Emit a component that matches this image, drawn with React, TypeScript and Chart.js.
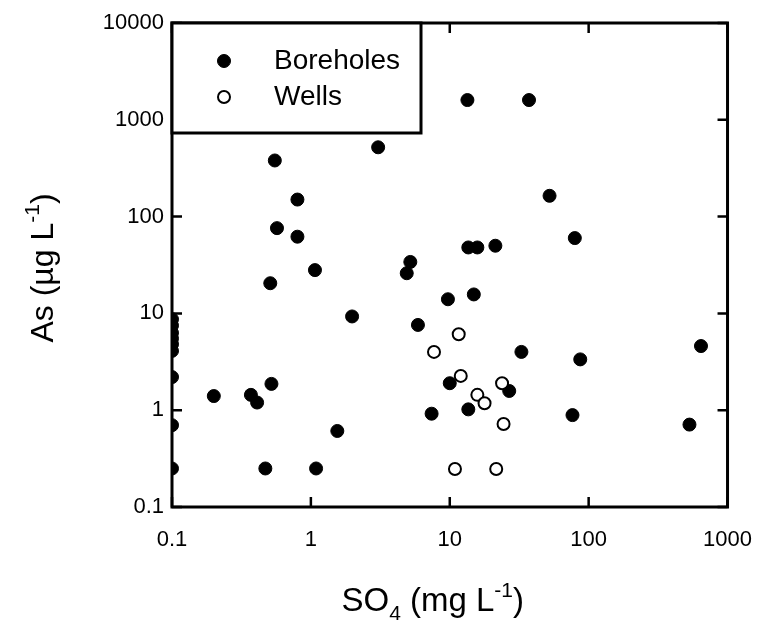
import React, { useEffect, useRef } from "react";
import { Chart, registerables } from "chart.js";

Chart.register(...registerables);

// ---- data ----
const seriesNames = ["Boreholes", "Wells"];

const boreholeSO4 = [
  0.1, 0.1, 0.1, 0.1, 0.1, 0.1, 0.1, 0.1, 0.1,
  0.2, 0.37, 0.41, 0.47, 0.52, 0.51, 0.55, 0.57, 0.8, 0.8,
  1.07, 1.09, 1.55, 1.98, 3.05,
  4.9, 5.2, 5.9, 7.4, 9.7, 10,
  13.4, 13.6, 15.8, 14.9, 13.6,
  21.3, 26.8, 32.8, 37.2, 52.3,
  79.5, 76.5, 87, 532, 644,
];
const boreholeAs = [
  8.7, 7.5, 6.3, 5.5, 4.8, 4.1, 2.2, 0.7, 0.25,
  1.4, 1.44, 1.2, 0.25, 1.87, 20.5, 380, 76, 150, 62,
  28, 0.25, 0.61, 9.3, 520,
  26, 34, 7.6, 0.92, 14, 1.9,
  1600, 48, 48, 15.7, 1.02,
  50, 1.58, 4.0, 1600, 164,
  60, 0.89, 3.35, 0.71, 4.6,
];

const wellSO4 = [7.7, 11.6, 12.0, 15.8, 17.8, 23.8, 24.4, 10.9, 21.6];
const wellAs = [4.0, 6.1, 2.26, 1.44, 1.18, 1.9, 0.72, 0.247, 0.247];

const xTicks = [0.1, 1, 10, 100, 1000];
const yTicks = [0.1, 1, 10, 100, 1000, 10000];
const xTickLabels = ["0.1", "1", "10", "100", "1000"];
const yTickLabels = ["0.1", "1", "10", "100", "1000", "10000"];

const FONT = "'Liberation Sans', Arial, Helvetica, sans-serif";
const INK = "#000";

type Run = { text: string; size: number; dy: number };

const xTitleRuns: Run[] = [
  { text: "SO", size: 33, dy: 0 },
  { text: "4", size: 21, dy: 9 },
  { text: " (mg L", size: 33, dy: 0 },
  { text: "-1", size: 21, dy: -14 },
  { text: ")", size: 33, dy: 0 },
];
const yTitleRuns: Run[] = [
  { text: "As (µg L", size: 32, dy: 0 },
  { text: "-1", size: 21, dy: -14 },
  { text: ")", size: 32, dy: 0 },
];

function drawRuns(ctx: CanvasRenderingContext2D, runs: Run[], cx: number, baseline: number) {
  let total = 0;
  for (const r of runs) {
    ctx.font = `${r.size}px ${FONT}`;
    total += ctx.measureText(r.text).width;
  }
  let x = cx - total / 2;
  ctx.textAlign = "left";
  ctx.textBaseline = "alphabetic";
  for (const r of runs) {
    ctx.font = `${r.size}px ${FONT}`;
    ctx.fillText(r.text, x, baseline + r.dy);
    x += ctx.measureText(r.text).width;
  }
}

const framePlugin = {
  id: "frameAndLegend",
  afterDatasetsDraw(chart: any) {
    const { ctx, chartArea: a, scales } = chart;
    ctx.save();
    ctx.strokeStyle = INK;
    ctx.fillStyle = INK;

    // inward tick marks on all four sides
    const tl = 10;
    ctx.lineWidth = 2.5;
    ctx.beginPath();
    for (const v of xTicks) {
      const px = scales.x.getPixelForValue(v);
      ctx.moveTo(px, a.bottom);
      ctx.lineTo(px, a.bottom - tl);
      ctx.moveTo(px, a.top);
      ctx.lineTo(px, a.top + tl);
    }
    for (const v of yTicks) {
      const py = scales.y.getPixelForValue(v);
      ctx.moveTo(a.left, py);
      ctx.lineTo(a.left + tl, py);
      ctx.moveTo(a.right, py);
      ctx.lineTo(a.right - tl, py);
    }
    ctx.stroke();

    // frame
    ctx.lineWidth = 3;
    ctx.strokeRect(a.left, a.top, a.right - a.left, a.bottom - a.top);

    // legend box
    const lx = a.left;
    const ly = a.top;
    const lw = 249;
    const lh = 110;
    ctx.fillStyle = "#fff";
    ctx.fillRect(lx, ly, lw, lh);
    ctx.strokeRect(lx, ly, lw, lh);

    const ds = chart.data.datasets;
    const rows = [
      { y: ly + 38, ds: ds[0] },
      { y: ly + 74, ds: ds[1] },
    ];
    for (const row of rows) {
      const mx = lx + 52;
      ctx.beginPath();
      ctx.arc(mx, row.y, row.ds.pointRadius, 0, Math.PI * 2);
      ctx.fillStyle = row.ds.pointBackgroundColor;
      ctx.fill();
      ctx.lineWidth = row.ds.pointBorderWidth;
      ctx.strokeStyle = row.ds.pointBorderColor;
      ctx.stroke();
      ctx.fillStyle = INK;
      ctx.font = `28px ${FONT}`;
      ctx.textAlign = "left";
      ctx.textBaseline = "middle";
      ctx.fillText(row.ds.label, lx + 102, row.y);
    }

    // axis titles
    ctx.fillStyle = INK;
    drawRuns(ctx, xTitleRuns, (a.left + a.right) / 2 - 17, 611);
    ctx.save();
    ctx.translate(53, (a.top + a.bottom) / 2 + 3);
    ctx.rotate(-Math.PI / 2);
    drawRuns(ctx, yTitleRuns, 0, 0);
    ctx.restore();

    ctx.restore();
  },
};

export default function App() {
  const ref = useRef<HTMLCanvasElement | null>(null);

  useEffect(() => {
    if (!ref.current) return;
    const chart = new Chart(ref.current, {
      type: "scatter",
      data: {
        datasets: [
          {
            label: seriesNames[0],
            data: boreholeSO4.map((x, i) => ({ x, y: boreholeAs[i] })),
            pointRadius: 6.5,
            pointBorderWidth: 1,
            pointBackgroundColor: "#000",
            pointBorderColor: "#000",
            order: 1,
          },
          {
            label: seriesNames[1],
            data: wellSO4.map((x, i) => ({ x, y: wellAs[i] })),
            pointRadius: 6,
            pointBorderWidth: 2,
            pointBackgroundColor: "#fff",
            pointBorderColor: "#000",
            order: 0,
          },
        ] as any,
      },
      options: {
        animation: false,
        responsive: false,
        maintainAspectRatio: false,
        layout: { padding: { left: 0, top: 23, right: 35, bottom: 0 } },
        plugins: {
          legend: { display: false },
          tooltip: { enabled: false },
          title: { display: false },
        },
        scales: {
          x: {
            type: "logarithmic",
            min: 0.1,
            max: 1000,
            afterBuildTicks: (s: any) => {
              s.ticks = xTicks.map((v) => ({ value: v, major: true }));
            },
            afterFit: (s: any) => {
              s.height = 121;
            },
            grid: { display: false, drawTicks: false },
            border: { display: false },
            ticks: {
              autoSkip: false,
              maxRotation: 0,
              padding: 20,
              color: INK,
              font: { family: FONT, size: 22 },
              callback: (v: any) => {
                const i = xTicks.indexOf(Number(v));
                return i >= 0 ? xTickLabels[i] : "";
              },
            },
          },
          y: {
            type: "logarithmic",
            min: 0.1,
            max: 10000,
            afterBuildTicks: (s: any) => {
              s.ticks = yTicks.map((v) => ({ value: v, major: true }));
            },
            afterFit: (s: any) => {
              s.width = 172;
            },
            grid: { display: false, drawTicks: false },
            border: { display: false },
            ticks: {
              autoSkip: false,
              padding: 8,
              color: INK,
              font: { family: FONT, size: 22 },
              callback: (v: any) => {
                const i = yTicks.indexOf(Number(v));
                return i >= 0 ? yTickLabels[i] : "";
              },
            },
          },
        },
      },
      plugins: [framePlugin],
    });
    return () => chart.destroy();
  }, []);

  return (
    <div style={{ position: "fixed", left: 0, top: 0, width: 772, height: 628, background: "#fff" }}>
      <canvas ref={ref} width={772} height={628} style={{ display: "block" }} />
    </div>
  );
}
